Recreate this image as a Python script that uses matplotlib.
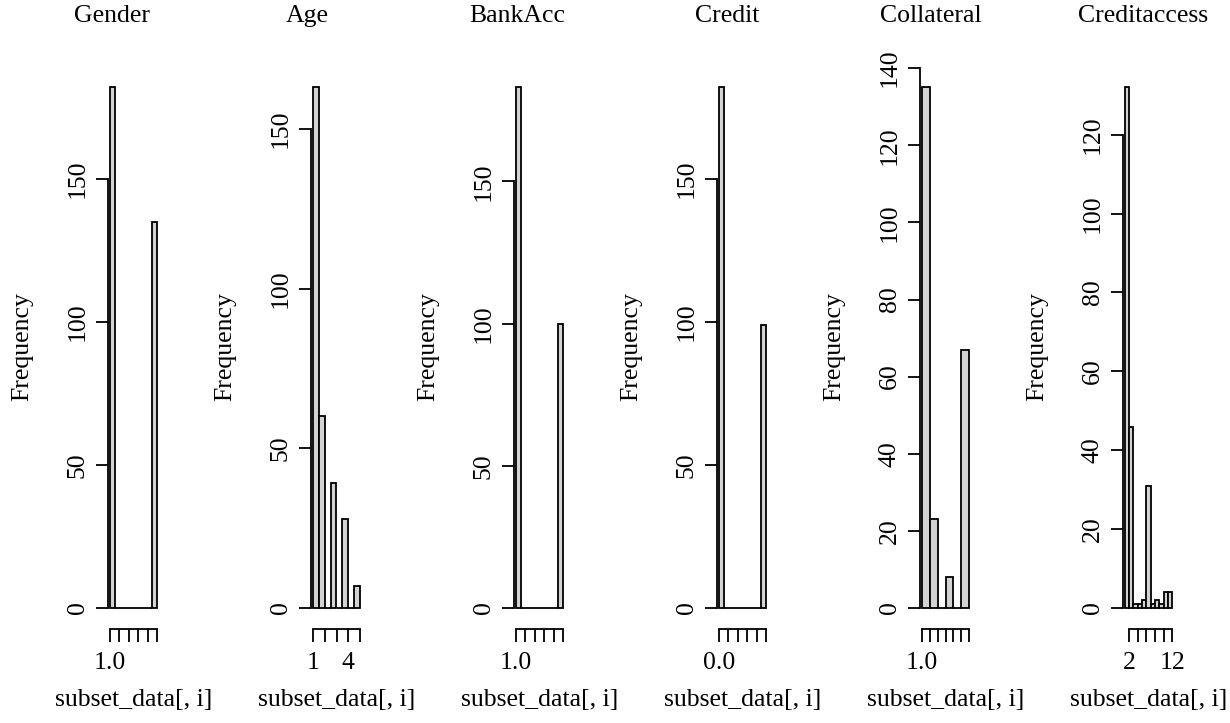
import matplotlib
matplotlib.use("Agg")
import matplotlib.pyplot as plt
import numpy as np

plt.rcParams['font.family'] = ['Liberation Serif', 'DejaVu Serif']

# one histogram per variable
titles = ['Gender', 'Age', 'BankAcc', 'Credit', 'Collateral', 'Creditaccess']

gender_breaks = [1.0, 1.1, 1.2, 1.3, 1.4, 1.5, 1.6, 1.7, 1.8, 1.9, 2.0]
gender_counts = [182, 0, 0, 0, 0, 0, 0, 0, 0, 135]

age_breaks = [1.0, 1.5, 2.0, 2.5, 3.0, 3.5, 4.0, 4.5, 5.0]
age_counts = [163, 60, 0, 39, 0, 28, 0, 7]

bankacc_breaks = [1.0, 1.1, 1.2, 1.3, 1.4, 1.5, 1.6, 1.7, 1.8, 1.9, 2.0]
bankacc_counts = [183, 0, 0, 0, 0, 0, 0, 0, 0, 100]

credit_breaks = [0.0, 0.1, 0.2, 0.3, 0.4, 0.5, 0.6, 0.7, 0.8, 0.9, 1.0]
credit_counts = [182, 0, 0, 0, 0, 0, 0, 0, 0, 99]

collateral_breaks = [1.0, 1.2, 1.4, 1.6, 1.8, 2.0, 2.2]
collateral_counts = [135, 23, 0, 8, 0, 67]

creditaccess_breaks = [1, 2, 3, 4, 5, 6, 7, 8, 9, 10, 11, 12]
creditaccess_counts = [132, 46, 1, 1, 2, 31, 1, 2, 1, 4, 4]

x_ticks = [
    [1.0, 1.2, 1.4, 1.6, 1.8, 2.0],
    [1, 2, 3, 4, 5],
    [1.0, 1.2, 1.4, 1.6, 1.8, 2.0],
    [0.0, 0.2, 0.4, 0.6, 0.8, 1.0],
    [1.0, 1.2, 1.4, 1.6, 1.8, 2.0, 2.2],
    [2, 4, 6, 8, 10, 12],
]
x_labels = [
    ['1.0', '', '', '', '', ''],
    ['1', '', '', '4', ''],
    ['1.0', '', '', '', '', ''],
    ['0.0', '', '', '', '', ''],
    ['1.0', '', '', '', '', '', ''],
    ['2', '', '', '', '', '12'],
]
y_ticks = [
    [0, 50, 100, 150],
    [0, 50, 100, 150],
    [0, 50, 100, 150],
    [0, 50, 100, 150],
    [0, 20, 40, 60, 80, 100, 120, 140],
    [0, 20, 40, 60, 80, 100, 120],
]

breaks = [gender_breaks, age_breaks, bankacc_breaks, credit_breaks,
          collateral_breaks, creditaccess_breaks]
counts = [gender_counts, age_counts, bankacc_counts, credit_counts,
          collateral_counts, creditaccess_counts]

W, H = 1230, 723
fig = plt.figure(figsize=(W / 100, H / 100), dpi=100)

fs = 18.5
lw = 1.3
top_px, bot_px = 66.6, 628.8
title_cx = [112, 307, 517, 727, 931, 1143]   # title centres, px

for k in range(6):
    left_px = 108 + 203 * k
    wid_px = 51
    ax = fig.add_axes([left_px / W, 1 - bot_px / H, wid_px / W, (bot_px - top_px) / H])

    b = np.array(breaks[k], dtype=float)
    c = counts[k]
    ax.bar(b[:-1], c, width=np.diff(b), align='edge', color='#d3d3d3',
           edgecolor='black', linewidth=lw)

    xr = b[-1] - b[0]
    ax.set_xlim(b[0] - 0.04 * xr, b[-1] + 0.04 * xr)
    ym = max(c)
    ax.set_ylim(-0.04 * ym, 1.04 * ym)

    for s in ['top', 'right']:
        ax.spines[s].set_visible(False)
    ax.spines['left'].set_bounds(y_ticks[k][0], y_ticks[k][-1])
    ax.spines['bottom'].set_bounds(x_ticks[k][0], x_ticks[k][-1])
    ax.spines['left'].set_linewidth(lw)
    ax.spines['bottom'].set_linewidth(lw)

    ax.set_yticks(y_ticks[k])
    ax.set_yticklabels([str(t) for t in y_ticks[k]], rotation=90, va='center')
    ax.set_xticks(x_ticks[k])
    ax.set_xticklabels(x_labels[k])
    ax.tick_params(direction='out', length=9, width=lw, labelsize=fs)
    ax.tick_params(axis='y', pad=5)
    ax.tick_params(axis='x', pad=8)

    cx = (left_px + wid_px / 2) / W
    fig.text(title_cx[k] / W, 1 - 16 / H, titles[k], ha='center', va='center', fontsize=fs)
    fig.text(cx, 1 - 700 / H, 'subset_data[, i]', ha='center', va='center', fontsize=fs)
    fig.text((left_px - 86) / W, 1 - 347 / H, 'Frequency', rotation=90,
             ha='center', va='center', fontsize=fs)

fig.savefig('out.png', dpi=100)
